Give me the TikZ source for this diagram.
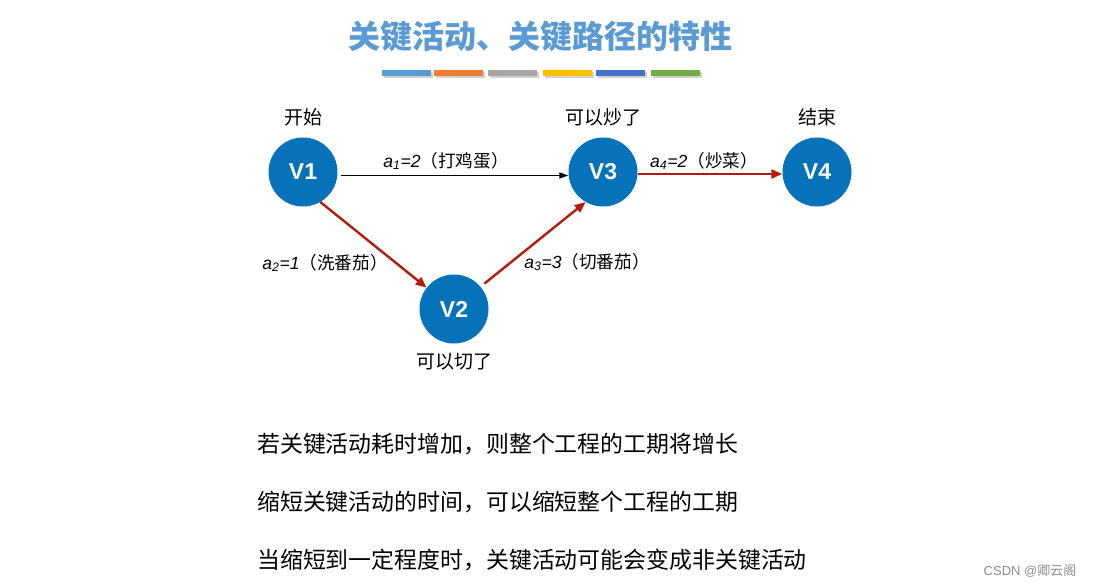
\documentclass[tikz,border=0pt]{standalone}
\usepackage{fontspec}
\setmainfont{Liberation Sans}
\newfontfamily\cjk{Noto Sans CJK SC}
\usetikzlibrary{arrows.meta}

\definecolor{nodeblue}{RGB}{5,114,186}
\definecolor{critred}{RGB}{181,27,12}
\definecolor{titleblue}{RGB}{91,155,213}
\definecolor{barA}{RGB}{91,155,213}
\definecolor{barB}{RGB}{237,125,49}
\definecolor{barC}{RGB}{165,165,165}
\definecolor{barD}{RGB}{255,192,0}
\definecolor{barE}{RGB}{68,114,196}
\definecolor{barF}{RGB}{112,173,71}

\tikzset{
  event/.style={circle, fill=nodeblue, minimum size=69pt, inner sep=0pt,
    text=white, font=\fontsize{23}{23}\selectfont\bfseries},
  evlabel/.style={font=\cjk\fontsize{19}{19}\selectfont, inner sep=0pt},
  actlabel/.style={font=\fontsize{17.6}{17.6}\selectfont, inner sep=0pt},
  critical/.style={draw=critred, line width=2.4pt,
    -{Triangle[length=11pt,width=9pt]}},
  normal/.style={draw=black, line width=1.3pt,
    -{Triangle[length=9pt,width=6pt]}},
  remark/.style={font=\cjk\fontsize{22.9}{22.9}\selectfont, anchor=west, inner sep=0pt},
}

\newcommand{\act}[3]{\textit{a\textsubscript{#1}=#2}{\cjk（#3）}}

\begin{document}
\begin{tikzpicture}[x=1pt,y=1pt,yscale=-1,xscale=1]
\useasboundingbox (0,0) rectangle (1094,588);

% Title
\node[font=\cjk\fontsize{32}{32}\selectfont\bfseries, text=titleblue, inner sep=0pt] (title) at (540,37) {关键活动、关键路径的特性};

% Colour bars under the title
\foreach \x/\c in {382/barA, 434/barB, 488/barC, 543/barD, 596/barE, 651/barF} {
  \fill[black!18] (\x+1.5,72) rectangle (\x+50.5,78.5);
  \fill[\c] (\x,70) rectangle (\x+48.5,76);
}

% Events
\node[event] (v1) at (303,172) {V1};
\node[event] (v2) at (454,309) {V2};
\node[event] (v3) at (603,172) {V3};
\node[event] (v4) at (817,172) {V4};

% Event labels
\node[evlabel] (lab1) at (303,117) {开始};
\node[evlabel] (lab2) at (454,362) {可以切了};
\node[evlabel] (lab3) at (603,117) {可以炒了};
\node[evlabel] (lab4) at (817,117) {结束};

% Activities
\draw[normal] ([xshift=3pt,yshift=3.5pt]v1.east) -- ([yshift=3.5pt]v3.west);
\draw[critical] ([yshift=2pt]v3.east) -- ([yshift=2pt]v4.west);
\draw[critical] (v1.-60) -- (v2.142);
\draw[critical, shorten <=5pt] (v2.40) -- (v3.-120);

% Activity labels
\node[actlabel] (act1) at (446,161) {\act{1}{2}{打鸡蛋}};
\node[actlabel] (act2) at (325,263) {\act{2}{1}{洗番茄}};
\node[actlabel] (act3) at (587,262) {\act{3}{3}{切番茄}};
\node[actlabel] (act4) at (704,161) {\act{4}{2}{炒菜}};

% Remarks
\node[remark] (r1) at (257,444) {若关键活动耗时增加，则整个工程的工期将增长};
\node[remark] (r2) at (257,502) {缩短关键活动的时间，可以缩短整个工程的工期};
\node[remark] (r3) at (257,560) {当缩短到一定程度时，关键活动可能会变成非关键活动};

% Watermark
\node[font=\fontsize{13}{13}\selectfont, text=black!45, inner sep=0pt] (mark) at (1030,571) {CSDN @{\cjk 卿云阁}};

\end{tikzpicture}
\end{document}
